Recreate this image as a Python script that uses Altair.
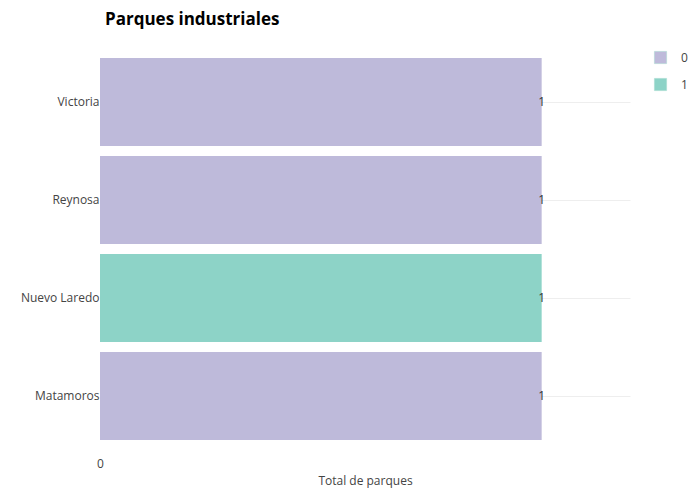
import altair as alt
import pandas as pd

ciudades = ["Victoria", "Reynosa", "Nuevo Laredo", "Matamoros"]
totales = [1, 1, 1, 1]
grupo = ["0", "0", "1", "0"]

df = pd.DataFrame({"ciudad": ciudades, "total": totales, "grupo": grupo})

FONT = "Open Sans"

y_enc = alt.Y(
    "ciudad:N",
    sort=ciudades,
    title=None,
    scale=alt.Scale(paddingInner=0.1, paddingOuter=0.05),
    axis=alt.Axis(
        domain=False, ticks=False, labelPadding=1, labelFontSize=12,
        labelColor="#444", labelFont=FONT, grid=True, gridColor="#eeeeee",
        bandPosition=0.5,
    ),
)
x_enc = alt.X(
    "total:Q",
    title="Total de parques",
    scale=alt.Scale(domain=[0, 1.2], nice=False),
    axis=alt.Axis(
        values=[0], format="d", domain=False, ticks=False, grid=False, labelPadding=13,
        labelFlush=False,
        labelFontSize=12, labelColor="#444", labelFont=FONT,
        titleFont=FONT, titleFontSize=12, titleFontWeight="normal",
        titleColor="#444", titlePadding=6,
    ),
)

bars = alt.Chart(df).mark_bar(opacity=1).encode(
    x=x_enc,
    y=y_enc,
    color=alt.Color(
        "grupo:N",
        scale=alt.Scale(domain=["0", "1"], range=["#bebada", "#8dd3c7"]),
        legend=alt.Legend(
            title=None, orient="none", legendX=554, legendY=-2,
            symbolType="square", symbolSize=150, symbolStrokeWidth=0.5,
            symbolStrokeColor="#a8dcd0", labelFont=FONT, labelFontSize=12,
            labelColor="#444", rowPadding=12, labelOffset=14, symbolOpacity=1,
        ),
    ),
)

labels = alt.Chart(df).mark_text(
    align="center", baseline="middle", fontSize=12, color="#333", font=FONT
).encode(
    x=alt.X("total:Q"),
    y=alt.Y("ciudad:N", sort=ciudades),
    text=alt.Text("total:Q"),
)

chart = (
    alt.layer(bars, labels)
    .properties(
        width=530,
        height=392,
        background="white",
        title=alt.TitleParams(
            "Parques industriales", anchor="start", frame="group", dx=5, font=FONT,
            fontSize=17, fontWeight="bold", color="#000", offset=22,
        ),
        autosize=alt.AutoSizeParams(type="none"),
        padding={"left": 92, "top": 45, "right": 60, "bottom": 47},
    )
    .configure_view(strokeWidth=0, stroke="transparent")
)

chart.save("out.html", embed_options={"renderer": "svg", "actions": False})
